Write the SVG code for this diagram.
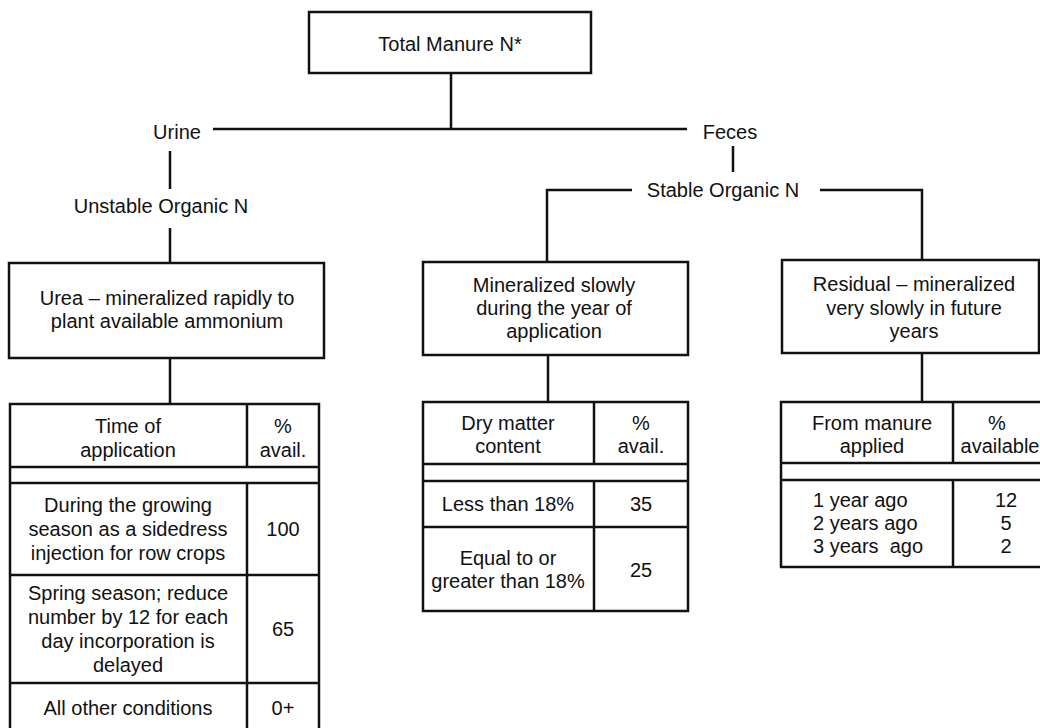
<svg xmlns="http://www.w3.org/2000/svg" width="1040" height="728" viewBox="0 0 1040 728">
<style>
text{font-family:"Liberation Sans",Arial,sans-serif;font-size:20px;fill:#111;text-anchor:middle}
.l{text-anchor:start}
.b{fill:#fff;stroke:#111;stroke-width:2.5}
.c{fill:none;stroke:#111;stroke-width:2.5}
</style>
<rect width="1040" height="728" fill="#fff"/>
<g id="connectors" class="c">
<path d="M451 73V129M213 129H687"/>
<path d="M170 151V189M170 228V263"/>
<path d="M733 146V172"/>
<path d="M632 190H547V262M820 190H922V260"/>
<path d="M170 358V404M548 355V402M922 353V402"/>
</g>
<g id="total">
<rect class="b" x="309" y="12" width="282" height="61"/>
<text x="450" y="51">Total Manure N*</text>
</g>
<g id="urine"><text x="177" y="139">Urine</text></g>
<g id="feces"><text x="730" y="139">Feces</text></g>
<g id="unstable"><text x="161" y="213">Unstable Organic N</text></g>
<g id="stable"><text x="723" y="197">Stable Organic N</text></g>
<g id="urea">
<rect class="b" x="9" y="263" width="315" height="95"/>
<text x="167" y="305">Urea – mineralized rapidly to</text>
<text x="167" y="328">plant available ammonium</text>
</g>
<g id="slow">
<rect class="b" x="423" y="262" width="265" height="93"/>
<text x="554" y="292">Mineralized slowly</text>
<text x="554" y="315">during the year of</text>
<text x="554" y="338">application</text>
</g>
<g id="residual">
<rect class="b" x="782" y="260" width="257" height="93"/>
<text x="914" y="291">Residual – mineralized</text>
<text x="914" y="315">very slowly in future</text>
<text x="914" y="338">years</text>
</g>
<g id="table-left">
<rect class="b" x="10" y="404" width="309" height="340"/>
<path class="c" d="M10 467H319M10 483H319M10 575H319M10 683H319M247 404V467M247 483V744"/>
<text x="128" y="433">Time of</text>
<text x="128" y="457">application</text>
<text x="283" y="433">%</text>
<text x="283" y="457">avail.</text>
<text x="128" y="512">During the growing</text>
<text x="128" y="536">season as a sidedress</text>
<text x="128" y="560">injection for row crops</text>
<text x="283" y="536">100</text>
<text x="128" y="600">Spring season; reduce</text>
<text x="128" y="624">number by 12 for each</text>
<text x="128" y="648">day incorporation is</text>
<text x="128" y="672">delayed</text>
<text x="283" y="636">65</text>
<text x="128" y="715">All other conditions</text>
<text x="283" y="715">0+</text>
</g>
<g id="table-middle">
<rect class="b" x="423" y="402" width="265" height="209"/>
<path class="c" d="M423 464H688M423 481H688M423 527H688M594 402V464M594 481V611"/>
<text x="508" y="430">Dry matter</text>
<text x="508" y="453">content</text>
<text x="641" y="430">%</text>
<text x="641" y="453">avail.</text>
<text x="508" y="511">Less than 18%</text>
<text x="641" y="511">35</text>
<text x="508" y="565">Equal to or</text>
<text x="508" y="588">greater than 18%</text>
<text x="641" y="577">25</text>
</g>
<g id="table-right">
<rect class="b" x="781" y="402" width="262" height="165"/>
<path class="c" d="M781 463H1043M781 480H1043M953 402V463M953 480V567"/>
<text x="872" y="430">From manure</text>
<text x="872" y="453">applied</text>
<text x="997" y="430">%</text>
<text x="1000" y="453">available</text>
<text class="l" x="813" y="507">1 year ago</text>
<text class="l" x="813" y="530">2 years ago</text>
<text class="l" x="813" y="553" xml:space="preserve">3 years  ago</text>
<text x="1006" y="507">12</text>
<text x="1006" y="530">5</text>
<text x="1006" y="553">2</text>
</g>
</svg>
